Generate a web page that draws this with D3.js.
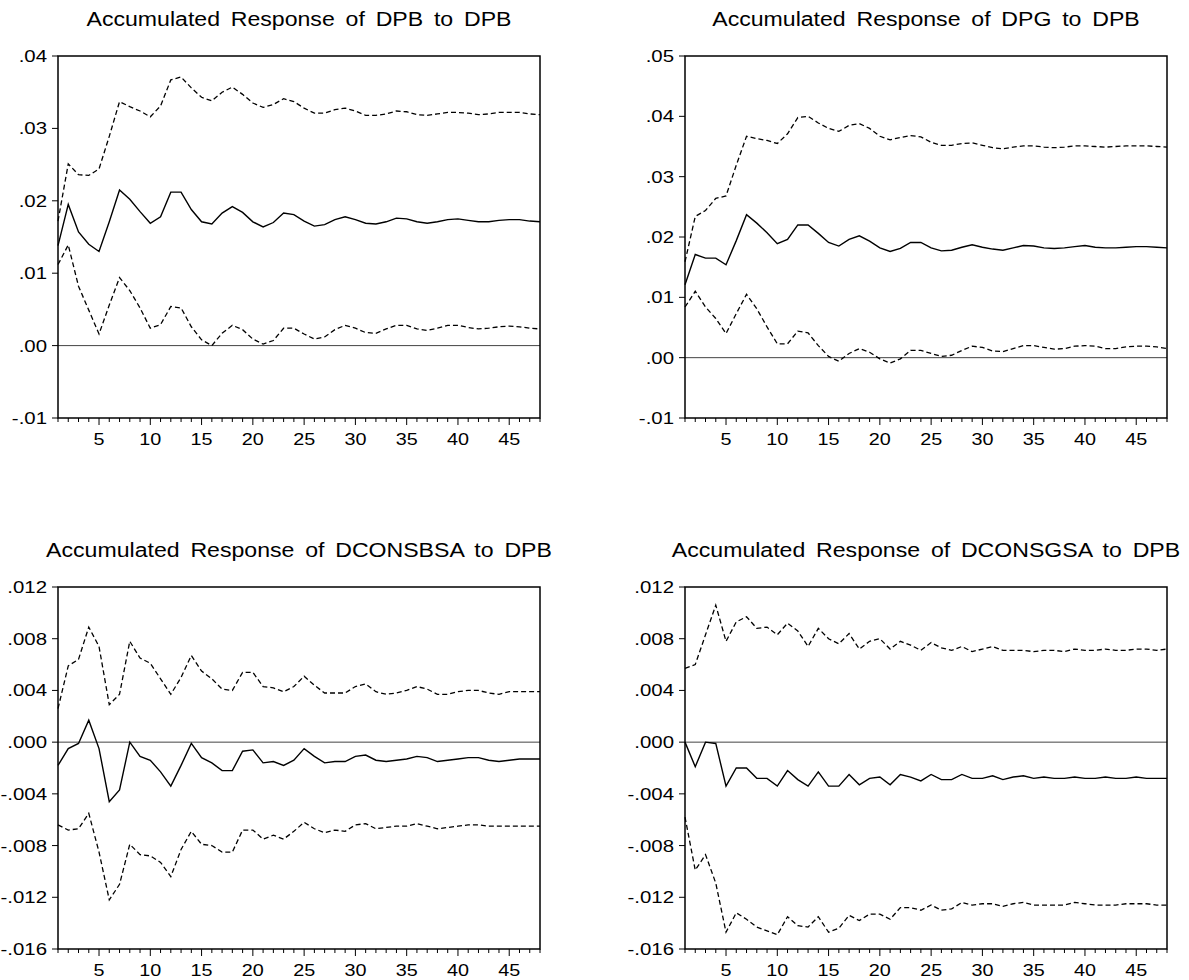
<!DOCTYPE html>
<html>
<head>
<meta charset="utf-8">
<script src="https://cdn.jsdelivr.net/npm/d3@7"></script>
<style>
  body { margin: 0; background: #fff; }
  svg { display: block; font-family: Arial, "Liberation Sans", sans-serif; }
</style>
</head>
<body>
<svg id="chart" width="1189" height="980"></svg>
<script>
const periods = d3.range(1, 49);
const majorTicks = [5, 10, 15, 20, 25, 30, 35, 40, 45];

const titles = [
  'Accumulated Response of DPB to DPB',
  'Accumulated Response of DPG to DPB',
  'Accumulated Response of DCONSBSA to DPB',
  'Accumulated Response of DCONSGSA to DPB'
];

// y ticks per panel
const yTicksTop1 = [-0.01, 0, 0.01, 0.02, 0.03, 0.04];
const yTicksTop2 = [-0.01, 0, 0.01, 0.02, 0.03, 0.04, 0.05];
const yTicksBottom = [-0.016, -0.012, -0.008, -0.004, 0, 0.004, 0.008, 0.012];

// DPB to DPB
const dpbResp = [.0138,.0195,.0157,.0140,.0130,.0171,.0215,.0202,.0185,.0169,
  .0178,.0212,.0212,.0188,.0171,.0168,.0183,.0192,.0184,.0171,
  .0164,.0170,.0183,.0181,.0172,.0165,.0167,.0174,.0178,.0174,
  .0169,.0168,.0171,.0176,.0175,.0171,.0169,.0171,.0174,.0175,
  .0173,.0171,.0171,.0173,.0174,.0174,.0172,.0171];
const dpbUpper = [.0172,.0251,.0236,.0235,.0244,.0289,.0337,.0330,.0324,.0316,
  .0331,.0367,.0371,.0356,.0343,.0338,.0350,.0357,.0347,.0335,
  .0329,.0333,.0341,.0337,.0328,.0321,.0321,.0326,.0328,.0324,
  .0318,.0318,.0320,.0324,.0323,.0319,.0318,.0320,.0322,.0322,
  .0321,.0319,.0320,.0322,.0322,.0322,.0320,.0319];
const dpbLower = [.0112,.0139,.0082,.0049,.0016,.0056,.0094,.0076,.0052,.0024,
  .0029,.0054,.0052,.0026,.0008,.0000,.0017,.0028,.0022,.0009,
  .0002,.0007,.0024,.0024,.0016,.0009,.0012,.0022,.0028,.0024,
  .0018,.0017,.0023,.0028,.0028,.0023,.0021,.0024,.0028,.0028,
  .0025,.0023,.0024,.0026,.0027,.0026,.0024,.0023];

// DPG to DPB
const dpgResp = [.0121,.0171,.0165,.0165,.0154,.0194,.0237,.0223,.0207,.0189,
  .0196,.0220,.0220,.0206,.0191,.0185,.0196,.0202,.0193,.0182,
  .0176,.0181,.0191,.0191,.0182,.0177,.0178,.0183,.0187,.0183,
  .0180,.0178,.0182,.0186,.0185,.0182,.0181,.0182,.0184,.0186,
  .0183,.0182,.0182,.0183,.0184,.0184,.0183,.0182];
const dpgUpper = [.0159,.0234,.0244,.0264,.0268,.0319,.0367,.0363,.0360,.0355,
  .0371,.0398,.0400,.0389,.0380,.0375,.0385,.0388,.0380,.0367,
  .0361,.0365,.0368,.0366,.0357,.0352,.0352,.0355,.0356,.0352,
  .0348,.0346,.0349,.0351,.0351,.0349,.0348,.0349,.0351,.0351,
  .0350,.0349,.0350,.0351,.0351,.0351,.0350,.0349];
const dpgLower = [.0084,.0110,.0084,.0065,.0040,.0073,.0105,.0081,.0051,.0023,
  .0023,.0044,.0041,.0020,.0002,-.0006,.0007,.0015,.0009,-.0002,
  -.0009,-.0002,.0012,.0012,.0007,.0002,.0004,.0012,.0019,.0017,
  .0011,.0010,.0015,.0020,.0020,.0017,.0014,.0015,.0019,.0020,
  .0019,.0015,.0015,.0018,.0019,.0019,.0018,.0015];

// DCONSBSA to DPB
const consbResp = [-.0018,-.0005,-.0001,.0017,-.0005,-.0046,-.0037,.0000,-.0011,-.0014,
  -.0023,-.0034,-.0018,-.0001,-.0012,-.0016,-.0022,-.0022,-.0007,-.0006,
  -.0016,-.0015,-.0018,-.0014,-.0005,-.0011,-.0016,-.0015,-.0015,-.0011,
  -.0010,-.0014,-.0015,-.0014,-.0013,-.0011,-.0012,-.0015,-.0014,-.0013,
  -.0012,-.0012,-.0014,-.0015,-.0014,-.0013,-.0013,-.0013];
const consbUpper = [.0026,.0059,.0064,.0089,.0074,.0029,.0037,.0078,.0065,.0061,
  .0049,.0037,.0050,.0067,.0055,.0049,.0041,.0040,.0054,.0054,
  .0043,.0042,.0039,.0043,.0051,.0044,.0038,.0038,.0038,.0043,
  .0045,.0039,.0037,.0038,.0040,.0043,.0041,.0037,.0037,.0039,
  .0040,.0040,.0038,.0037,.0039,.0039,.0039,.0039];
const consbLower = [-.0064,-.0068,-.0067,-.0055,-.0085,-.0122,-.0110,-.0079,-.0087,-.0088,
  -.0093,-.0104,-.0083,-.0069,-.0079,-.0080,-.0085,-.0085,-.0068,-.0068,
  -.0075,-.0072,-.0075,-.0069,-.0062,-.0067,-.0070,-.0068,-.0069,-.0064,
  -.0063,-.0067,-.0066,-.0065,-.0065,-.0063,-.0065,-.0067,-.0066,-.0065,
  -.0064,-.0064,-.0065,-.0065,-.0065,-.0065,-.0065,-.0065];

// DCONSGSA to DPB
const consgResp = [.0000,-.0019,.0000,-.0001,-.0034,-.0020,-.0020,-.0028,-.0028,-.0034,
  -.0022,-.0029,-.0034,-.0023,-.0034,-.0034,-.0025,-.0033,-.0028,-.0027,
  -.0033,-.0025,-.0027,-.0030,-.0025,-.0029,-.0029,-.0025,-.0028,-.0028,
  -.0026,-.0029,-.0027,-.0026,-.0028,-.0027,-.0028,-.0028,-.0027,-.0028,
  -.0028,-.0027,-.0028,-.0028,-.0027,-.0028,-.0028,-.0028];
const consgUpper = [.0057,.0060,.0083,.0106,.0078,.0093,.0097,.0088,.0089,.0083,
  .0092,.0086,.0074,.0088,.0080,.0076,.0084,.0072,.0078,.0080,
  .0072,.0078,.0075,.0071,.0077,.0073,.0071,.0074,.0070,.0072,
  .0074,.0071,.0071,.0071,.0070,.0071,.0071,.0070,.0072,.0071,
  .0071,.0072,.0071,.0071,.0072,.0072,.0071,.0072];
const consgLower = [-.0058,-.0099,-.0087,-.0109,-.0147,-.0132,-.0137,-.0143,-.0146,-.0149,
  -.0135,-.0142,-.0143,-.0135,-.0147,-.0144,-.0134,-.0138,-.0133,-.0133,
  -.0137,-.0128,-.0128,-.0130,-.0126,-.0130,-.0129,-.0124,-.0126,-.0125,
  -.0125,-.0127,-.0125,-.0124,-.0126,-.0126,-.0126,-.0126,-.0124,-.0125,
  -.0126,-.0126,-.0126,-.0125,-.0125,-.0125,-.0126,-.0126];

const panels = [
  { title: titles[0], yTicks: yTicksTop1, decimals: 2, resp: dpbResp, upper: dpbUpper, lower: dpbLower, left: 58, top: 56 },
  { title: titles[1], yTicks: yTicksTop2, decimals: 2, resp: dpgResp, upper: dpgUpper, lower: dpgLower, left: 685, top: 56 },
  { title: titles[2], yTicks: yTicksBottom, decimals: 3, resp: consbResp, upper: consbUpper, lower: consbLower, left: 58, top: 587 },
  { title: titles[3], yTicks: yTicksBottom, decimals: 3, resp: consgResp, upper: consgUpper, lower: consgLower, left: 685, top: 587 }
];

const W = 482, H = 362;
const svg = d3.select('#chart');

function fmt(v, dec) {
  let s = Math.abs(v).toFixed(dec).replace(/^0/, '');
  return (v < 0 ? '-' : '') + s;
}

panels.forEach(p => {
  const g = svg.append('g').attr('transform', `translate(${p.left},${p.top})`);
  const x = d3.scaleLinear().domain([1, 48]).range([0, W]);
  const y = d3.scaleLinear().domain(d3.extent(p.yTicks)).range([H, 0]);

  g.append('text')
    .attr('transform', `translate(${W / 2},-30) scale(1.1,1)`)
    .attr('text-anchor', 'middle')
    .attr('font-size', 21)
    .attr('word-spacing', 4)
    .text(p.title);

  // zero line
  g.append('line')
    .attr('x1', 0).attr('x2', W)
    .attr('y1', y(0)).attr('y2', y(0))
    .attr('stroke', '#444').attr('stroke-width', 1);

  const line = d3.line().x((d, i) => x(periods[i])).y(d => y(d));

  g.append('path').datum(p.upper)
    .attr('d', line).attr('fill', 'none')
    .attr('stroke', '#000').attr('stroke-width', 1.3)
    .attr('stroke-dasharray', '5,3');
  g.append('path').datum(p.lower)
    .attr('d', line).attr('fill', 'none')
    .attr('stroke', '#000').attr('stroke-width', 1.3)
    .attr('stroke-dasharray', '5,3');
  g.append('path').datum(p.resp)
    .attr('d', line).attr('fill', 'none')
    .attr('stroke', '#000').attr('stroke-width', 1.4);

  // y axis
  const yAxis = g.append('g');
  yAxis.selectAll('line').data(p.yTicks).join('line')
    .attr('x1', -6).attr('x2', 0)
    .attr('y1', d => y(d)).attr('y2', d => y(d))
    .attr('stroke', '#000');
  yAxis.selectAll('text').data(p.yTicks).join('text')
    .attr('transform', d => `translate(-11,${y(d) + 6}) scale(1.2,1)`)
    .attr('text-anchor', 'end')
    .attr('font-size', 17)
    .text(d => fmt(d, p.decimals));

  // x axis
  const xAxis = g.append('g').attr('transform', `translate(0,${H})`);
  xAxis.selectAll('line').data(periods).join('line')
    .attr('x1', d => x(d)).attr('x2', d => x(d))
    .attr('y1', 0).attr('y2', d => majorTicks.includes(d) ? 7 : 4)
    .attr('stroke', '#000');
  xAxis.selectAll('text').data(majorTicks).join('text')
    .attr('transform', d => `translate(${x(d)},27) scale(1.2,1)`)
    .attr('text-anchor', 'middle')
    .attr('font-size', 16.5)
    .text(d => d);

  // frame
  g.append('rect')
    .attr('width', W).attr('height', H)
    .attr('fill', 'none')
    .attr('stroke', '#000').attr('stroke-width', 1.5);
});
</script>
</body>
</html>
